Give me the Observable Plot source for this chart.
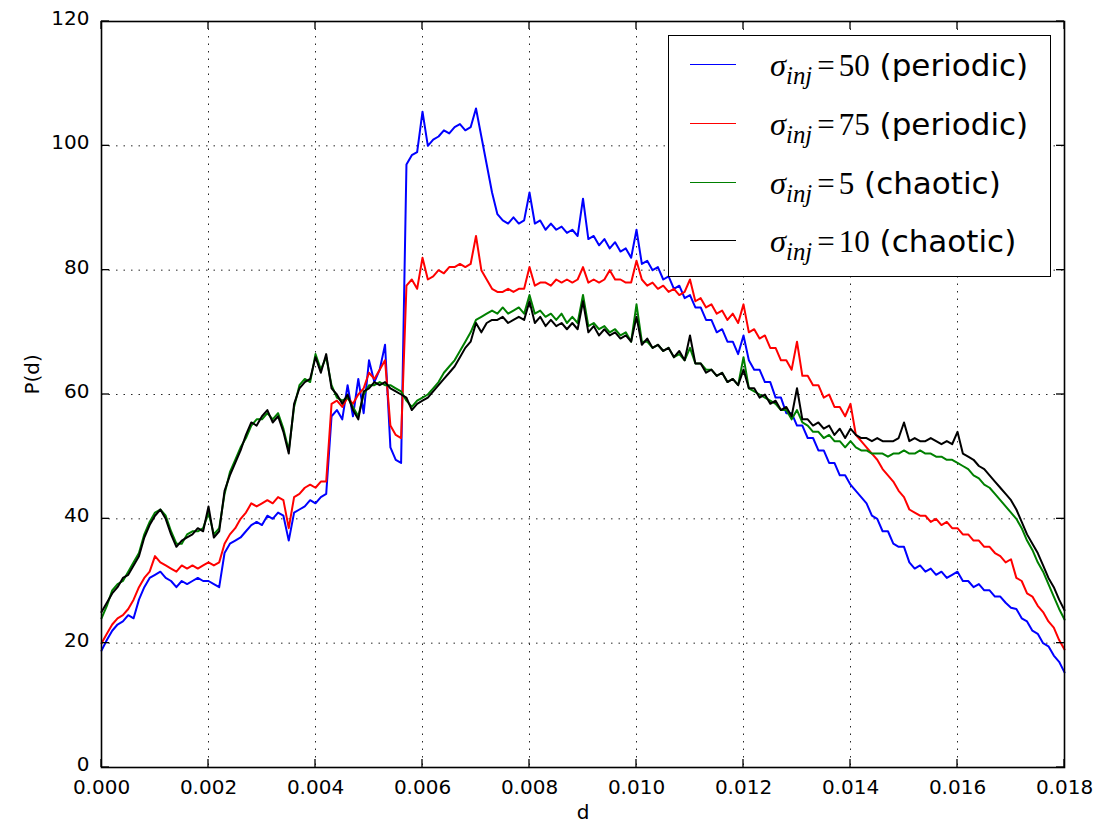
<!DOCTYPE html>
<html><head><meta charset="utf-8">
<script src="https://cdn.jsdelivr.net/npm/d3@7"></script>
<script src="https://cdn.jsdelivr.net/npm/@observablehq/plot@0.6"></script>
<style>
body{margin:0;background:#fff;}
#wrap{position:relative;width:1103px;height:829px;overflow:hidden;}
#legend{position:absolute;left:668px;top:35px;width:383px;height:242px;border:1.6px solid #000;background:#fff;box-sizing:border-box;}
.row{position:absolute;left:0;height:40px;white-space:nowrap;}
.swatch{position:absolute;left:21px;width:46px;height:0;border-top:1.8px solid #000;}
.txt{position:absolute;left:101px;top:0;font-family:"DejaVu Sans";font-size:31px;color:#000;line-height:40px;}
.m{font-family:"Liberation Serif";}
.m i{font-style:italic;}
.m .sg{font-size:1.05em;}
.m sub{font-size:0.8em;vertical-align:-0.32em;line-height:0;}
.m .eq{margin:0 4px 0 5px;}
</style></head><body><div id="wrap"></div>
<script>
const step = 0.0001;
const xTicks = [0,0.002,0.004,0.006,0.008,0.010,0.012,0.014,0.016,0.018];
const yTicks = [0,20,40,60,80,100,120];

const labels = ["50 (periodic)","75 (periodic)","5 (chaotic)","10 (chaotic)"];
const colors = ["#0000ff","#ff0000","#008000","#000000"];

const blue = [18.8,20.5,22.0,23.0,23.5,24.5,24.0,27.0,29.0,30.5,
31.0,31.5,30.5,30.0,29.0,30.0,29.5,30.0,30.5,30.0,
30.0,29.5,29.0,34.5,36.0,36.5,37.0,38.0,39.0,39.5,
39.0,40.5,40.0,41.0,40.5,36.5,41.0,41.5,42.0,43.0,
42.5,43.5,44.0,56.5,57.5,56.0,61.5,56.5,62.5,57.0,
65.5,62.0,64.0,68.0,51.5,49.5,49.0,97.0,98.5,99.0,
105.5,100.0,101.0,101.5,102.5,102.0,103.0,103.5,102.5,103.0,
106.0,101.5,97.0,92.5,89.0,88.0,87.5,88.5,87.5,88.0,
92.5,87.5,88.0,86.5,87.5,86.5,87.0,86.0,86.5,85.5,
91.5,85.0,85.5,84.0,85.0,83.5,84.5,83.0,83.5,82.0,
86.5,81.0,81.5,80.0,80.5,78.5,79.0,77.0,77.5,75.5,
76.0,74.0,74.0,72.0,72.0,70.0,70.5,68.5,68.5,66.5,
69.5,65.5,64.0,64.0,62.0,62.0,59.5,59.5,57.0,57.0,
55.0,55.0,53.0,53.0,51.0,51.0,49.0,49.0,47.0,47.0,
45.5,44.5,43.5,42.5,40.5,40.0,38.0,38.0,36.0,35.5,
35.5,33.0,32.0,32.5,31.5,32.0,31.0,31.5,30.5,31.0,
31.5,30.0,30.0,29.0,29.5,28.5,28.5,27.5,27.5,26.5,
25.7,25.5,24.0,23.5,22.0,21.5,20.0,19.5,18.0,17.0,
15.3];

const red = [20.0,21.5,23.0,24.0,24.5,25.5,27.0,29.0,30.5,31.5,
34.0,33.0,32.5,32.0,31.5,32.5,32.0,32.5,32.0,32.5,
33.0,32.5,33.0,36.0,37.5,38.5,40.0,41.0,42.5,42.0,
42.5,43.0,42.5,43.5,43.0,38.5,43.5,44.0,45.0,45.5,
45.0,46.0,46.0,58.5,59.0,58.0,59.5,58.5,60.0,61.0,
63.5,62.5,64.0,65.5,55.0,53.5,53.0,77.5,78.5,77.0,
82.0,78.5,79.0,80.0,79.5,80.5,80.5,81.0,80.5,81.0,
85.5,80.0,78.5,77.0,76.5,76.5,77.0,76.5,77.0,77.0,
80.5,77.5,78.0,78.0,77.5,78.5,78.0,78.5,78.0,78.5,
80.5,78.0,78.5,78.0,78.5,80.0,78.5,78.5,78.0,78.0,
81.5,78.5,77.5,78.0,77.0,77.5,76.5,77.0,76.0,76.5,
78.5,75.0,75.5,74.0,74.5,73.0,73.5,72.0,73.0,71.5,
74.5,70.0,70.5,69.0,69.5,67.5,67.5,65.5,65.5,64.0,
68.5,63.0,63.0,61.5,61.5,59.5,60.0,58.0,58.0,56.5,
58.5,53.5,52.5,51.5,50.5,49.5,48.0,47.0,46.0,44.5,
43.5,41.5,41.0,40.5,40.5,39.5,40.0,39.0,39.5,38.5,
38.5,37.5,37.5,36.5,36.5,35.5,35.5,34.5,34.0,33.0,
33.5,30.5,30.0,28.0,27.5,26.0,25.0,23.5,22.5,20.5,
19.0];

const green = [24.0,26.0,28.5,29.5,30.0,31.5,33.0,34.5,37.5,39.5,
41.0,41.5,40.5,38.0,36.0,36.0,37.5,38.0,38.0,38.5,
41.0,37.5,38.5,44.0,47.5,49.5,51.5,53.0,55.0,56.0,
56.0,57.0,56.0,57.0,54.5,51.0,58.0,61.5,62.5,62.0,
66.5,64.0,66.0,61.5,59.5,59.0,59.5,58.0,56.5,60.0,
61.5,61.5,62.0,61.5,61.5,61.0,60.5,59.0,58.0,59.0,
59.5,60.0,61.0,62.0,63.5,64.5,65.5,67.0,68.5,70.0,
72.0,72.5,73.0,73.5,73.0,74.0,73.0,73.5,74.0,73.0,
76.0,73.0,73.5,72.5,73.0,72.0,73.0,71.5,72.5,71.5,
76.0,71.0,71.5,70.5,71.0,70.0,70.5,69.5,70.0,68.5,
74.5,68.5,68.5,67.5,68.0,67.0,67.5,66.0,66.5,65.5,
67.5,65.0,65.0,64.0,64.0,63.0,63.5,62.0,62.5,61.5,
66.0,61.0,60.5,60.0,59.5,59.0,58.5,57.5,57.5,56.0,
57.5,55.5,55.0,54.0,54.0,53.0,53.5,52.5,52.5,51.5,
52.5,51.5,51.0,51.0,50.5,50.5,50.5,50.0,50.5,50.5,
51.0,50.5,50.5,51.0,50.5,50.5,50.0,50.0,49.5,49.5,
49.0,48.5,48.0,47.0,46.5,45.5,45.0,44.0,43.0,42.0,
41.0,40.0,38.5,36.5,35.0,33.0,31.5,29.5,27.5,25.5,
23.8];

const black = [25.0,26.5,28.0,29.0,30.5,31.0,32.5,34.0,37.0,39.0,
40.5,41.5,40.0,37.5,35.5,36.5,37.0,37.5,38.5,38.0,
42.0,37.0,38.0,44.5,47.0,49.0,51.0,53.5,55.5,55.0,
56.5,57.5,55.5,56.5,54.0,50.5,58.5,61.0,62.0,62.5,
66.0,63.5,66.5,61.0,60.0,58.5,60.0,57.5,56.0,60.5,
61.0,62.0,61.5,62.0,61.0,60.5,60.0,59.5,57.5,58.5,
59.0,59.5,60.5,61.5,62.5,63.5,64.5,66.0,67.5,68.5,
71.5,70.0,71.5,72.0,72.0,72.5,71.5,72.0,72.5,72.0,
75.0,71.5,72.5,71.0,72.0,71.0,71.5,70.5,71.5,70.5,
75.0,70.0,71.0,69.5,70.5,69.5,70.0,69.0,69.5,68.5,
72.5,68.0,69.0,67.5,68.0,67.0,67.5,66.0,67.0,65.5,
69.5,65.0,65.0,63.5,64.0,63.0,63.5,62.0,62.5,61.5,
64.0,61.0,61.0,59.5,60.0,58.5,59.0,57.5,58.0,56.5,
61.0,56.0,56.0,55.0,55.5,54.5,55.0,53.5,54.5,53.0,
54.5,53.5,53.0,53.0,52.5,53.0,52.5,52.5,52.5,53.0,
55.5,52.5,53.0,52.5,52.5,53.0,52.5,52.0,52.5,52.0,
54.0,50.5,50.0,49.5,48.5,48.0,47.0,46.0,45.0,44.0,
43.0,41.5,39.5,37.5,36.0,34.5,32.5,30.5,29.0,27.0,
25.3];

const seriesVals = [blue, red, green, black];
const rowsOf = vals => vals.map((v, i) => ({d: i * step, P: v}));

const chart = Plot.plot({
  width: 1103, height: 829,
  marginLeft: 101, marginRight: 39, marginTop: 21, marginBottom: 62,
  x: {domain: [0, 0.018], label: null},
  y: {domain: [0, 120], label: null},
  style: {fontFamily: "DejaVu Sans", fontSize: "20px", background: "#fff", color: "#000", overflow: "visible"},
  marks: [
    Plot.gridX(xTicks, {stroke: "#000", strokeOpacity: 0.85, strokeWidth: 1, strokeDasharray: "1.5,6"}),
    Plot.gridY(yTicks, {stroke: "#000", strokeOpacity: 0.85, strokeWidth: 1, strokeDasharray: "1.5,6"}),
    ...seriesVals.map((vals, k) => Plot.line(rowsOf(vals), {x: "d", y: "P", stroke: colors[k], strokeWidth: 2, curve: "linear"})),
    Plot.axisX(xTicks, {tickSize: 0, tickPadding: 12, tickFormat: d3.format(".3f"), fontSize: 20, label: null}),
    Plot.axisY(yTicks, {tickSize: 0, tickPadding: 12, dy: -3, fontSize: 20, label: null}),
    Plot.text(["d"], {frameAnchor: "bottom", dy: 51, fontSize: 20}),
    Plot.text(["P(d)"], {frameAnchor: "left", dx: -69, rotate: -90, fontSize: 20}),
    Plot.frame({stroke: "#000", strokeWidth: 1.6})
  ]
});

// inward tick marks on all four sides, placed with the chart's own scales
const sx = chart.scale("x"), sy = chart.scale("y");
const svg = d3.select(chart);
const L = 101, R = 1064, T = 21, B = 767, TL = 8;
const g = svg.append("g").attr("stroke", "#000").attr("stroke-width", 1.3);
xTicks.forEach(t => {
  const x = sx.apply(t);
  g.append("line").attr("x1", x).attr("x2", x).attr("y1", B).attr("y2", B - TL);
  g.append("line").attr("x1", x).attr("x2", x).attr("y1", T).attr("y2", T + TL);
});
yTicks.forEach(t => {
  const y = sy.apply(t);
  g.append("line").attr("y1", y).attr("y2", y).attr("x1", L).attr("x2", L + TL);
  g.append("line").attr("y1", y).attr("y2", y).attr("x1", R).attr("x2", R - TL);
});

const wrap = document.getElementById("wrap");
wrap.appendChild(chart);

const leg = document.createElement("div");
leg.id = "legend";
const rowCenters = [29, 88, 147, 205];
labels.forEach((lab, k) => {
  const row = document.createElement("div");
  row.className = "row";
  row.style.top = (rowCenters[k] - 20) + "px";
  const sw = document.createElement("div");
  sw.className = "swatch";
  sw.style.borderTopColor = colors[k];
  sw.style.top = "19px";
  row.appendChild(sw);
  const [num, ...rest] = lab.split(" ");
  const tx = document.createElement("div");
  tx.className = "txt";
  tx.innerHTML = '<span class="m"><i class="sg">σ</i><sub><i>inj</i></sub><span class="eq">=</span>' + num + '</span> ' + rest.join(" ");
  row.appendChild(tx);
  leg.appendChild(row);
});
wrap.appendChild(leg);
</script></body></html>
